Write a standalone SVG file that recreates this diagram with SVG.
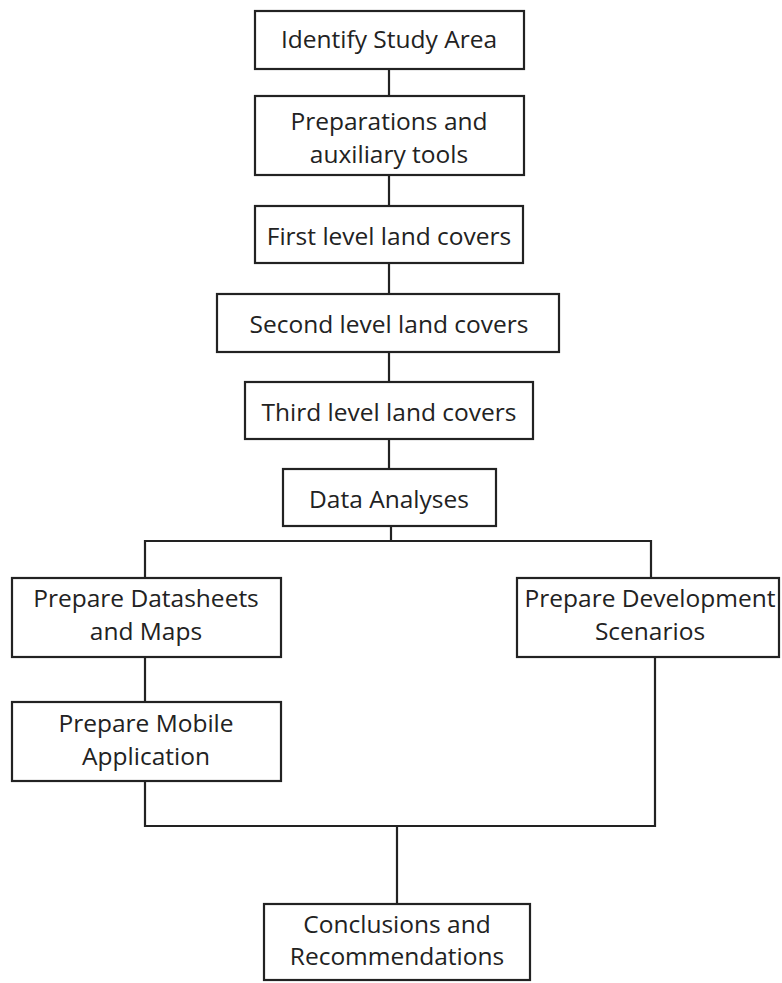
<svg xmlns="http://www.w3.org/2000/svg" width="782" height="983" viewBox="0 0 782 983">
<style>
rect.n{fill:#fff;stroke:#222;stroke-width:2.2}
text{font-family:"Open Sans","Liberation Sans",sans-serif;font-size:24.5px;fill:#222;text-anchor:middle}
.c{fill:none;stroke:#222;stroke-width:2.2}
</style>
<rect width="782" height="983" fill="#fff"/>
<g id="connectors">
<path class="c" d="M389 69V96"/>
<path class="c" d="M389 175V206"/>
<path class="c" d="M389 263V294"/>
<path class="c" d="M389 352V382"/>
<path class="c" d="M389 439V469"/>
<path class="c" d="M391 526V541H145V578M391 541H651V578"/>
<path class="c" d="M145 657V702"/>
<path class="c" d="M145 781V826H655V657M397 826V904"/>
</g>
<g id="n1"><rect class="n" x="255" y="11" width="269" height="58"/><text x="389" y="48">Identify Study Area</text></g>
<g id="n2"><rect class="n" x="255" y="96" width="269" height="79"/><text x="389" y="130">Preparations and</text><text x="389" y="163">auxiliary tools</text></g>
<g id="n3"><rect class="n" x="255" y="206" width="268" height="57"/><text x="389" y="245">First level land covers</text></g>
<g id="n4"><rect class="n" x="217" y="294" width="342" height="58"/><text x="389" y="333">Second level land covers</text></g>
<g id="n5"><rect class="n" x="245" y="382" width="288" height="57"/><text x="389" y="421">Third level land covers</text></g>
<g id="n6"><rect class="n" x="283" y="469" width="213" height="57"/><text x="389" y="508">Data Analyses</text></g>
<g id="n7"><rect class="n" x="12" y="578" width="269" height="79"/><text x="146" y="607">Prepare Datasheets</text><text x="146" y="640">and Maps</text></g>
<g id="n8"><rect class="n" x="12" y="702" width="269" height="79"/><text x="146" y="732">Prepare Mobile</text><text x="146" y="765">Application</text></g>
<g id="n9"><rect class="n" x="517" y="578" width="262" height="79"/><text x="650" y="607">Prepare Development</text><text x="650" y="640">Scenarios</text></g>
<g id="n10"><rect class="n" x="264" y="904" width="266" height="76"/><text x="397" y="933">Conclusions and</text><text x="397" y="965">Recommendations</text></g>
</svg>
